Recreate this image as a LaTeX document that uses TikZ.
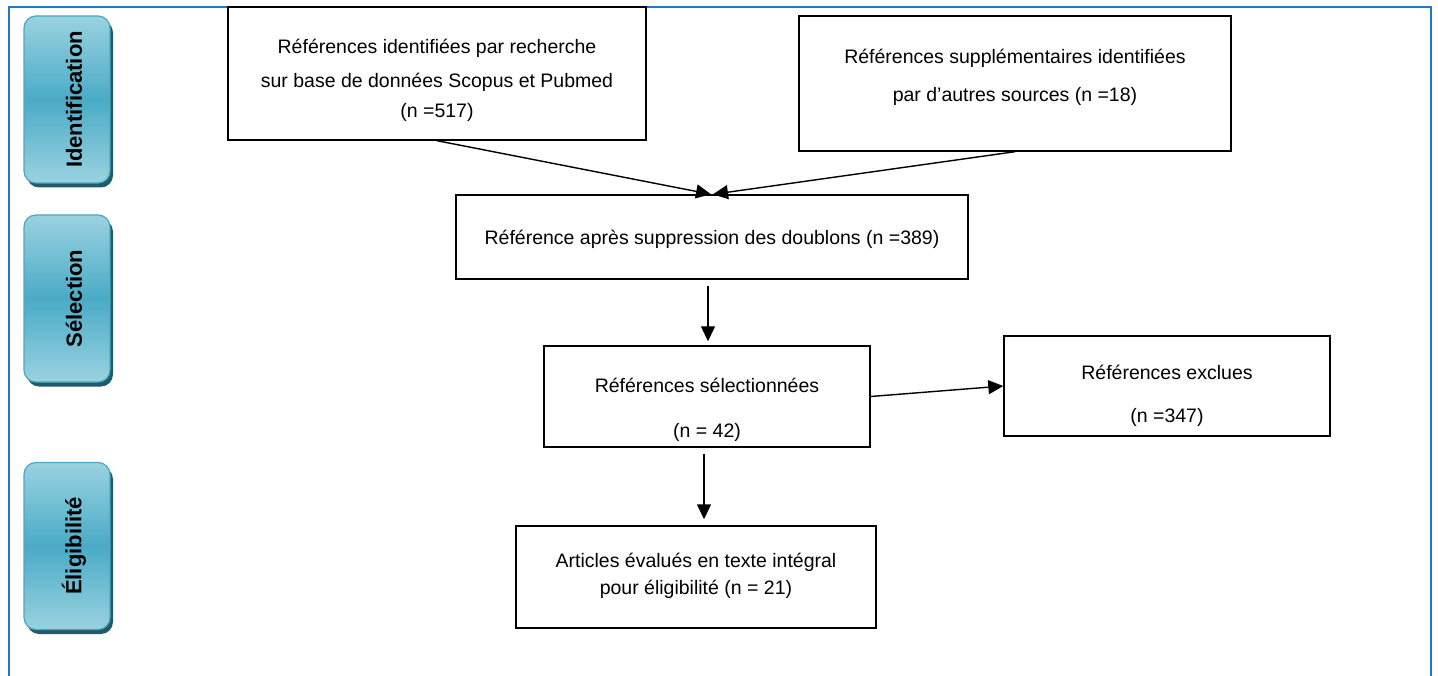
\documentclass[tikz,border=0pt]{standalone}
\usepackage{fontspec}
\setmainfont{Liberation Sans}
\usetikzlibrary{arrows.meta,calc}
\definecolor{frameblue}{HTML}{1F78CF}
\definecolor{tealtop}{HTML}{9AD2E0}
\definecolor{tealmid}{HTML}{4AABC6}
\definecolor{tealshadow}{HTML}{215A69}
\definecolor{tealedge}{HTML}{4BA7C2}
\begin{document}
\begin{tikzpicture}[x=1pt,y=-1pt,
  box/.style={draw=black, line width=1.4pt, rectangle, inner sep=0pt},
  txt/.style={align=center, font=\fontsize{19.5}{23}\selectfont, inner sep=0pt},
  arr/.style={line width=1.4pt, -{Triangle[length=15pt,width=14pt]}},
  sideshadow/.style={rectangle, rounded corners=12pt, fill=tealshadow, minimum width=86pt, minimum height=167pt, inner sep=0pt},
  sidebox/.style={rectangle, rounded corners=12pt, draw=tealedge, line width=1.2pt, top color=tealtop, bottom color=tealtop, middle color=tealmid, minimum width=86pt, minimum height=167pt, inner sep=0pt},
  sidetxt/.style={rotate=90, font=\fontsize{22}{26}\selectfont\bfseries, inner sep=0pt}
]
\useasboundingbox (0,0) rectangle (1438,676);
% outer frame
\draw[frameblue, line width=2pt] (9,676) -- (9,7) -- (1431,7) -- (1431,676);

% side labels
\node[sideshadow] (s1s) at (70,104) {};
\node[sidebox] (s1) at (67,99.5) {};
\node[sidetxt] (s1t) at (74,99.5) {Identification};
\node[sideshadow] (s2s) at (70,303) {};
\node[sidebox] (s2) at (67,298.5) {};
\node[sidetxt] (s2t) at (74,298.5) {Sélection};
\node[sideshadow] (s3s) at (70,550.5) {};
\node[sidebox] (s3) at (67,546) {};
\node[sidetxt] (s3t) at (74,546) {Éligibilité};

% boxes
\node[box, minimum width=418pt, minimum height=133pt] (b1) at (437,73.5) {};
\node[txt] (t1) at (437,80.8) {Références identifiées par recherche\\[11pt]sur base de données Scopus et Pubmed\\[7pt](n =517)};

\node[box, minimum width=432pt, minimum height=135pt] (b2) at (1015,83.5) {};
\node[txt] (t2) at (1015,77.8) {Références supplémentaires identifiées\\[15pt]par d’autres sources (n =18)};

\node[box, minimum width=512pt, minimum height=84pt] (b3) at (712,237) {};
\node[txt] (t3) at (712,239.8) {Référence après suppression des doublons (n =389)};

\node[box, minimum width=326pt, minimum height=101pt] (b4) at (707,396.5) {};
\node[txt] (t4) at (707,410.3) {Références sélectionnées\\[22pt](n = 42)};

\node[box, minimum width=326pt, minimum height=100pt] (b5) at (1167,386) {};
\node[txt] (t5) at (1167,396.3) {Références exclues\\[20pt](n =347)};

\node[box, minimum width=360pt, minimum height=102pt] (b6) at (696,577) {};
\node[txt] (t6) at (696,576.3) {Articles évalués en texte intégral\\[4pt]pour éligibilité (n = 21)};

% connectors
\draw[arr] (b1.south) -- ([xshift=-1pt]b3.north);
\draw[arr] (b2.south) -- ([xshift=1pt]b3.north);
\draw[arr] ($(b3.south)+(-4,6)$) -- ($(b4.north)+(1,-4)$);
\draw[arr] (b4.east) -- (b5.west);
\draw[arr] ($(b4.south)+(-3,6)$) -- ($(b4.south |- b6.north)+(-3,-6)$);
\end{tikzpicture}
\end{document}
